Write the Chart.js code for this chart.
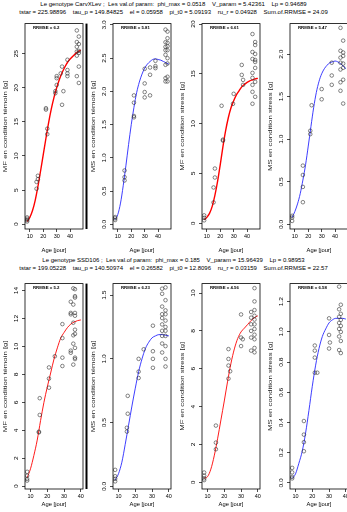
<!DOCTYPE html>
<html>
<head>
<meta charset="utf-8">
<script src="https://cdn.jsdelivr.net/npm/chart.js@4.4.0/dist/chart.umd.min.js"></script>
<style>
  body { margin: 0; background: #fff; width: 347px; height: 512px; overflow: hidden; position: relative;
         font-family: "Liberation Sans", Arial, sans-serif; }
  .ttl { position: absolute; left: 0; width: 347px; text-align: center; font-size: 6px; line-height: 8px;
         white-space: pre; color: #000; }
  canvas { position: absolute; }
</style>
</head>
<body>
<div class="ttl" style="top:0px">Le genotype CarvXLev ;  Les val.of param:  phi_max = 0.0518    V_param = 5.42361    Lp = 0.94689</div>
<div class="ttl" style="top:8px">tstar = 225.98896    tau_p = 149.84825    el = 0.05958    pi_t0 = 5.09193    ru_r = 0.04928    Sum.of.RRMSE = 24.09</div>
<div class="ttl" style="top:256px">Le genotype SSD106 ;  Les val.of param:  phi_max = 0.185    V_param = 15.96439    Lp = 0.98953</div>
<div class="ttl" style="top:264px">tstar = 199.05228    tau_p = 140.50974    el = 0.26582    pi_t0 = 12.8096    ru_r = 0.03159    Sum.of.RRMSE = 22.57</div>
<script>
const xTicks = [10, 20, 30, 40];

// ---------- genotype CarvXLev (top row) ----------
const curveAgeA = [8, 10, 12, 14, 16, 18, 20, 22, 24, 26, 28, 30, 32, 34, 36, 38, 40, 42, 44, 46, 48];

const mfTemCurveA = [0.4, 1.0, 2.0, 3.5, 5.5, 7.8, 10.2, 12.6, 14.9, 16.9, 18.6, 20.0, 21.2, 22.2, 23.0, 23.7, 24.2, 24.6, 25.0, 25.3, 25.5];
const mfTemAgeA = [8, 8, 8, 8, 15, 15, 16, 16, 22, 22, 23, 23, 29, 29, 30, 30, 30, 33, 34, 34, 35, 38, 38, 38, 38,
                   45, 45, 45, 45, 45, 45, 46.5, 46.5, 46.5, 46.5, 46.5, 46.5];
const mfTemValA = [0.4, 0.6, 0.8, 1.0, 5.2, 6.2, 6.6, 7.1, 16.8, 17.0, 13.2, 14.0, 19.5, 19.2, 21.7, 20.4, 21.4, 22.1, 23.1, 17.5, 19.5, 24.1, 22.6, 22.1, 21.7,
                   28.4, 26.7, 26.0, 25.3, 24.7, 21.7, 27.5, 26.4, 25.4, 25.1, 23.1, 20.7];

const msTemCurveA = [0.07, 0.15, 0.32, 0.58, 0.88, 1.2, 1.5, 1.76, 1.98, 2.14, 2.26, 2.35, 2.41, 2.45, 2.48, 2.49, 2.48, 2.47, 2.45, 2.43, 2.41];
const msTemAgeA = [8, 8, 8, 15, 15, 15, 22, 22, 22, 22, 30, 30, 30, 30, 34, 34, 34, 38, 38, 38,
                   45.5, 45.5, 45.5, 45.5, 45.5, 45.5, 45.5, 45.5, 47, 47, 47, 47, 47, 47, 47, 47, 47];
const msTemValA = [0.09, 0.065, 0.11, 0.81, 0.71, 0.66, 1.94, 1.83, 1.63, 1.61, 2.34, 2.12, 1.99, 1.91, 2.36, 1.94, 2.25, 2.38, 2.46, 2.35,
                   2.93, 2.74, 2.67, 2.62, 2.55, 2.40, 2.20, 2.15, 2.90, 2.80, 2.73, 2.68, 2.62, 2.50, 2.42, 2.22, 2.15];

const mfStrCurveA = [0.35, 0.6, 1.0, 1.7, 2.8, 4.2, 5.9, 7.7, 9.3, 10.6, 11.6, 12.3, 12.9, 13.3, 13.7, 13.95, 14.15, 14.3, 14.4, 14.5, 14.55];
const mfStrAgeA = [8, 8, 8, 15, 15, 16, 16, 21, 22, 22, 29.5, 30, 36, 36, 37, 37,
                   44, 44, 44, 44, 44, 44, 44, 44, 46, 46, 46, 46, 46, 46, 46, 46];
const mfStrValA = [0.3, 0.55, 0.8, 2.1, 3.6, 4.6, 5.5, 11.8, 8.4, 8.3, 12.0, 13.0, 15.9, 14.9, 14.4, 13.9,
                   19.0, 17.2, 16.5, 15.1, 14.6, 13.9, 13.2, 12.0, 18.2, 17.9, 17.0, 16.4, 16.2, 15.6, 14.2, 12.7];

const msStrCurveA = [0.08, 0.15, 0.24, 0.36, 0.52, 0.7, 0.92, 1.15, 1.37, 1.55, 1.68, 1.77, 1.83, 1.87, 1.9, 1.91, 1.92, 1.91, 1.89, 1.86, 1.83];
const msStrAgeA = [8, 8, 8, 16, 16, 16, 16, 21.5, 21.5, 22.5, 30, 30, 37.5, 37.5, 37.5,
                   44, 44, 44, 44, 44, 44, 44, 46, 46, 46, 46, 46, 46, 46];
const msStrValA = [0.08, 0.1, 0.04, 0.26, 0.44, 0.58, 0.69, 1.10, 1.06, 1.40, 1.59, 1.47, 1.90, 1.75, 1.64,
                   2.31, 2.04, 1.96, 1.90, 1.82, 1.67, 1.57, 2.16, 2.02, 1.98, 1.89, 1.84, 1.70, 1.42];

// ---------- genotype SSD106 (bottom row) ----------
const curveAgeB = [8, 10, 12, 14, 16, 18, 20, 22, 24, 26, 28, 30, 32, 34, 36, 38, 40];

const mfTemCurveB = [0.6, 1.25, 2.2, 3.3, 4.7, 6.0, 7.1, 8.1, 9.1, 9.9, 10.6, 11.0, 11.35, 11.6, 11.75, 11.85, 11.9];
const mfTemAgeB = [8, 8, 8, 8, 15, 15, 15.5, 15.5, 21, 21, 21, 24.5, 29, 29, 29, 29, 34, 34, 34, 34, 34,
                   35.5, 35.5, 35.5, 35.5, 35.5, 35.5, 36.5, 36.5, 36.5, 36.5, 36.5, 36.5, 36.5, 36.5, 36.5, 36.5];
const mfTemValB = [1.03, 0.75, 0.52, 0.4, 3.9, 3.85, 5.1, 6.3, 8.5, 7.7, 7.05, 9.3, 11.6, 10.6, 9.2, 8.6, 13.2, 12.4, 12.3, 9.7, 9.55,
                   14.16, 13.0, 11.7, 10.8, 10.2, 8.7, 14.1, 13.6, 13.5, 12.4, 12.2, 11.2, 10.9, 9.9, 9.2, 9.1];

const msTemCurveB = [0.05, 0.1, 0.19, 0.33, 0.48, 0.63, 0.77, 0.9, 1.0, 1.08, 1.13, 1.165, 1.18, 1.19, 1.19, 1.185, 1.18];
const msTemAgeB = [8, 8, 8, 8, 15.5, 15.5, 15, 15, 22, 22, 22, 25, 30.5, 30.5, 30.5, 30.5,
                   36, 36, 36, 36, 36, 36, 36, 36, 36, 36, 38, 38, 38, 38, 38, 38, 38, 38, 38, 38, 38];
const msTemValB = [0.13, 0.08, 0.06, 0.04, 0.71, 0.57, 0.46, 0.43, 1.0, 0.9, 0.85, 1.075, 1.26, 1.06, 1.0, 0.93,
                   1.55, 1.51, 1.41, 1.35, 1.32, 1.27, 1.22, 1.18, 1.12, 1.05, 1.56, 1.46, 1.38, 1.35, 1.30, 1.25, 1.22, 1.18, 1.10, 1.0, 0.94];

const mfStrCurveB = [0.22, 0.3, 0.7, 1.4, 2.3, 3.3, 4.3, 5.35, 6.3, 7.05, 7.6, 7.95, 8.15, 8.35, 8.55, 8.7, 8.8];
const mfStrAgeB = [8, 8, 8, 8, 15, 15, 15, 22.5, 22.5, 22.5, 22.5, 23.5, 30, 30, 31, 30,
                   36, 36, 36, 36, 36, 36, 38, 38, 38, 38, 38, 38, 38, 38, 38, 38, 38];
const mfStrValB = [0.52, 0.35, 0.21, 0.12, 3.0, 2.1, 1.75, 7.04, 6.52, 6.17, 5.48, 5.87, 8.87, 7.65, 7.56, 7.2,
                   9.0, 8.7, 8.35, 8.0, 7.65, 6.96, 10.26, 9.56, 9.1, 8.8, 8.6, 8.35, 8.1, 7.8, 7.56, 7.1, 6.87];

const msStrCurveB = [0.03, 0.06, 0.13, 0.21, 0.33, 0.48, 0.64, 0.78, 0.89, 0.97, 1.02, 1.06, 1.08, 1.09, 1.09, 1.09, 1.085];
const msStrAgeB = [8, 8, 8, 8, 15, 15, 15, 15, 21.5, 21.5, 21.5, 21.5, 23, 30, 30, 30, 30.5,
                   36, 36, 36, 36, 36, 36, 36, 37, 37, 37, 37, 37, 37, 37];
const msStrValB = [0.1, 0.07, 0.04, 0.03, 0.41, 0.32, 0.27, 0.21, 0.91, 0.876, 0.83, 0.73, 0.73, 1.09, 0.98, 0.89, 0.93,
                   1.30, 1.15, 1.10, 1.06, 1.02, 0.97, 0.88, 1.18, 1.12, 1.08, 1.04, 1.0, 0.94, 0.86];

// y tick values
const yTicksMfTemA = [0, 5, 10, 15, 20, 25];
const yTicksMsTemA = [0, 0.5, 1, 1.5, 2, 2.5, 3];
const yTicksMfStrA = [0, 5, 10, 15, 20];
const yTicksMsStrA = [0, 0.5, 1, 1.5, 2];
const yTicksMfTemB = [0, 2, 4, 6, 8, 10, 12, 14];
const yTicksMsTemB = [0, 0.5, 1, 1.5];
const yTicksMfStrB = [0, 2, 4, 6, 8, 10];
const yTicksMsStrB = [0, 0.2, 0.4, 0.6, 0.8, 1, 1.2];

const ylabs = ['MF en condition témoin [g]', 'MS en condition témoin [g]', 'MF en condition stress [g]', 'MS en condition stress [g]'];

// R-like box, rotated y labels / title and the RRMSE note
const rBox = {
  id: 'rBox',
  afterDraw(chart, args, o) {
    const { ctx, chartArea: a } = chart;
    const ys = chart.scales.y;
    ctx.save();
    ctx.strokeStyle = '#000';
    ctx.lineWidth = 0.8;
    ctx.strokeRect(a.left, a.top, a.right - a.left, a.bottom - a.top);
    if (o.edge) {
      // heavy frame line just right of the first panel
      ctx.lineWidth = 2;
      ctx.beginPath();
      ctx.moveTo(a.right + 3.5, a.top);
      ctx.lineTo(a.right + 3.5, a.bottom);
      ctx.stroke();
    }
    ctx.fillStyle = '#000';
    ctx.font = '5.5px "Liberation Sans", Arial';
    ctx.textAlign = 'center';
    ctx.textBaseline = 'bottom';
    ys.ticks.forEach(t => {
      const py = ys.getPixelForValue(t.value);
      ctx.save();
      ctx.translate(a.left - 6, py);
      ctx.rotate(-Math.PI / 2);
      ctx.scale(1.2, 1);
      ctx.fillText(o.fmt(t.value), 0, 0);
      ctx.restore();
    });
    ctx.save();
    ctx.fillStyle = '#222';
    ctx.font = '5.2px "Liberation Sans", Arial';
    ctx.textBaseline = 'middle';
    ctx.translate(a.left - 19, (a.top + a.bottom) / 2);
    ctx.rotate(-Math.PI / 2);
    ctx.scale(1.5, 1);
    ctx.fillText(o.ylab, 0, 0);
    ctx.restore();
    ctx.font = 'bold 4.3px "Liberation Sans", Arial';
    ctx.textAlign = 'left';
    ctx.textBaseline = 'middle';
    ctx.fillText('RRMSE = ' + o.rrmse, a.left + 8, a.top + 4.5);
    ctx.restore();
  }
};

function makePanel(p) {
  const padL = 27, padR = 5, padT = 3, padB = p.padB;
  const bw = p.box[2] - p.box[0], bh = p.box[3] - p.box[1];
  const cv = document.createElement('canvas');
  cv.width = bw + padL + padR;
  cv.height = bh + padT + padB;
  cv.style.left = (p.box[0] - padL) + 'px';
  cv.style.top = (p.box[1] - padT) + 'px';
  document.body.appendChild(cv);

  new Chart(cv, {
    type: 'scatter',
    data: {
      datasets: [
        {
          data: p.ages.map((a, i) => ({ x: a, y: p.vals[i] })),
          pointStyle: 'circle', pointRadius: 1.8, borderWidth: 0.6,
          borderColor: '#333', backgroundColor: 'rgba(0,0,0,0)'
        },
        {
          data: p.cAges.map((a, i) => ({ x: a, y: p.curve[i] })),
          showLine: true, pointRadius: 0, borderColor: p.color, borderWidth: p.lw,
          cubicInterpolationMode: 'monotone', fill: false
        }
      ]
    },
    options: {
      responsive: false, animation: false, events: [],
      layout: { padding: { left: 0, top: padT, right: padR, bottom: 0 } },
      plugins: { legend: { display: false }, tooltip: { enabled: false },
                 rBox: { fmt: p.fmt, rrmse: p.rrmse, ylab: p.ylab, edge: !!p.edge } },
      scales: {
        x: {
          type: 'linear', min: p.xr[0], max: p.xr[1],
          afterBuildTicks: s => { s.ticks = xTicks.map(v => ({ value: v })); },
          afterFit: s => { s.height = padB; },
          border: { display: false },
          grid: { drawOnChartArea: false, tickLength: 3, color: '#000', lineWidth: 0.7 },
          ticks: { color: '#000', font: { size: 5.5, family: '"Liberation Sans", Arial' }, padding: 1,
                   maxRotation: 0, autoSkip: false, callback: v => String(v) },
          title: { display: true, text: 'Age [jour]', color: '#000',
                   font: { size: 5.8, family: '"Liberation Sans", Arial' }, padding: { top: 0, bottom: 2 } }
        },
        y: {
          type: 'linear', min: p.yr[0], max: p.yr[1],
          afterBuildTicks: s => { s.ticks = p.yTicks.map(v => ({ value: v })); },
          afterFit: s => { s.width = padL; },
          border: { display: false },
          grid: { drawOnChartArea: false, tickLength: 3, color: '#000', lineWidth: 0.7 },
          ticks: { display: false },
          title: { display: false }
        }
      }
    },
    plugins: [rBox]
  });
}

const f0 = v => String(v);
const f1 = v => v.toFixed(1);
const lefts = [25, 113, 202, 290];
const bw = 58;
const rowA = [22, 229], rowB = [282, 489];
const xrA = [6.4, 49.6], xrB = [6.72, 41.28];
const padA = 27, padB = 21;

makePanel({ box: [lefts[0], rowA[0], lefts[0] + bw, rowA[1]], padB: padA, xr: xrA, yr: [-0.7, 29.4], yTicks: yTicksMfTemA, fmt: f0, edge: true,
  ages: mfTemAgeA, vals: mfTemValA, cAges: curveAgeA, curve: mfTemCurveA, color: '#ff0000', lw: 1.4, ylab: ylabs[0], rrmse: '6.2' });
makePanel({ box: [lefts[1], rowA[0], lefts[1] + bw, rowA[1]], padB: padA, xr: xrA, yr: [-0.07, 3.02], yTicks: yTicksMsTemA, fmt: f1,
  ages: msTemAgeA, vals: msTemValA, cAges: curveAgeA, curve: msTemCurveA, color: '#2828ff', lw: 0.9, ylab: ylabs[1], rrmse: '5.81' });
makePanel({ box: [lefts[2], rowA[0], lefts[2] + bw, rowA[1]], padB: padA, xr: xrA, yr: [-0.57, 20.05], yTicks: yTicksMfStrA, fmt: f0,
  ages: mfStrAgeA, vals: mfStrValA, cAges: curveAgeA, curve: mfStrCurveA, color: '#ff0000', lw: 1.4, ylab: ylabs[2], rrmse: '6.61' });
makePanel({ box: [lefts[3], rowA[0], lefts[3] + bw, rowA[1]], padB: padA, xr: xrA, yr: [-0.055, 2.36], yTicks: yTicksMsStrA, fmt: f1,
  ages: msStrAgeA, vals: msStrValA, cAges: curveAgeA, curve: msStrCurveA, color: '#2828ff', lw: 0.9, ylab: ylabs[3], rrmse: '5.47' });

makePanel({ box: [lefts[0], rowB[0], lefts[0] + bw, rowB[1]], padB: padB, xr: xrB, yr: [-0.2, 14.5], yTicks: yTicksMfTemB, fmt: f0, edge: true,
  ages: mfTemAgeB, vals: mfTemValB, cAges: curveAgeB, curve: mfTemCurveB, color: '#ff0000', lw: 0.9, ylab: ylabs[0], rrmse: '5.2' });
makePanel({ box: [lefts[1], rowB[0], lefts[1] + bw, rowB[1]], padB: padB, xr: xrB, yr: [-0.02, 1.59], yTicks: yTicksMsTemB, fmt: f1,
  ages: msTemAgeB, vals: msTemValB, cAges: curveAgeB, curve: msTemCurveB, color: '#2828ff', lw: 0.9, ylab: ylabs[1], rrmse: '6.23' });
makePanel({ box: [lefts[2], rowB[0], lefts[2] + bw, rowB[1]], padB: padB, xr: xrB, yr: [-0.35, 10.5], yTicks: yTicksMfStrB, fmt: f0,
  ages: mfStrAgeB, vals: mfStrValB, cAges: curveAgeB, curve: mfStrCurveB, color: '#ff0000', lw: 0.9, ylab: ylabs[2], rrmse: '4.56' });
makePanel({ box: [lefts[3], rowB[0], lefts[3] + bw, rowB[1]], padB: padB, xr: xrB, yr: [-0.04, 1.32], yTicks: yTicksMsStrB, fmt: f1,
  ages: msStrAgeB, vals: msStrValB, cAges: curveAgeB, curve: msStrCurveB, color: '#2828ff', lw: 0.9, ylab: ylabs[3], rrmse: '6.58' });
</script>
</body>
</html>
